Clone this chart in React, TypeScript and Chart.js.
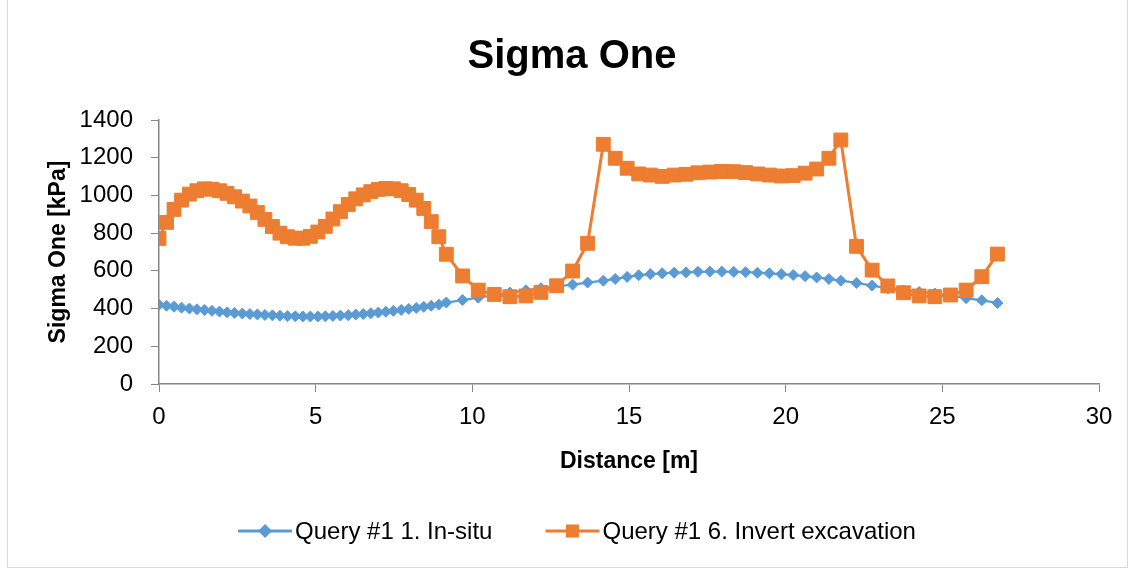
import React, { useEffect, useRef } from "react";
import { Chart, registerables } from "chart.js";

Chart.register(...registerables);

// ---- Data ----
const distance = [
  0.0, 0.24, 0.48, 0.72, 0.97, 1.21, 1.45, 1.69, 1.93, 2.17, 2.41, 2.66, 2.9, 3.14, 3.38, 3.62, 3.86, 4.1, 4.35, 4.59,
  4.83, 5.07, 5.31, 5.55, 5.79, 6.04, 6.28, 6.52, 6.76, 7.0, 7.24, 7.48, 7.73, 7.97, 8.21, 8.45, 8.69, 8.93, 9.17,
  9.69, 10.19, 10.7, 11.2, 11.71, 12.19, 12.69, 13.2, 13.68, 14.18,
  14.56, 14.94, 15.31, 15.68, 16.06, 16.44, 16.82, 17.2, 17.58, 17.96, 18.34, 18.72, 19.1, 19.48, 19.86, 20.24, 20.62,
  20.99, 21.38, 21.76,
  22.26, 22.76, 23.26, 23.76, 24.26, 24.76, 25.26, 25.76, 26.26, 26.76,
];

const inSitu = [
  420, 415, 410, 405, 400, 396, 392, 388, 384, 380, 377, 374, 371, 369, 366, 364, 362, 360, 359, 358,
  358, 358, 359, 361, 363, 365, 368, 371, 375, 379, 383, 388, 393, 398, 403, 409, 415, 421, 432,
  445, 458, 472, 485, 497, 508, 518, 527, 538, 548,
  557, 568, 577, 583, 587, 590, 592, 595, 596, 596, 595, 593, 590, 587, 583, 578, 572, 565, 557, 548,
  536, 522, 507, 496, 488, 480, 468, 455, 444, 430,
];

const invertExcavation = [
  772, 857, 926, 975, 1007, 1025, 1035, 1033, 1025, 1011, 993, 970, 944, 910, 873, 835, 800, 781, 773, 773,
  783, 806, 836, 875, 914, 952, 982, 1003, 1020, 1032, 1037, 1035, 1025, 1005, 975, 931, 861, 781, 688,
  573, 498, 475, 463, 467, 486, 521, 599, 746, 1271,
  1197, 1144, 1114, 1108, 1101, 1108, 1112, 1120, 1124, 1127, 1126, 1121, 1114, 1108, 1103, 1105, 1118, 1140, 1197, 1294,
  730, 604, 520, 484, 467, 463, 472, 498, 569, 689,
];

const seriesNames = ["Query #1 1. In-situ", "Query #1 6. Invert excavation"];
const chartTitle = "Sigma One";
const xAxisTitle = "Distance [m]";
const yAxisTitle = "Sigma One [kPa]";
const xTicks = { min: 0, max: 30, step: 5 };
const yTicks = { min: 0, max: 1400, step: 200 };

// ---- Styles ----
const BLUE = "#5B9BD5";
const ORANGE = "#ED7D31";
const AXIS = "#868686";
const FONT = "'Liberation Sans', Arial, sans-serif";

const W = 1135;
const H = 569;

const legendPlugin = {
  id: "excelLegend",
  afterDraw(chart: any) {
    const ctx = chart.ctx as CanvasRenderingContext2D;
    ctx.save();
    ctx.font = `24px ${FONT}`;
    ctx.textBaseline = "middle";
    ctx.textAlign = "left";
    const lineLen = 54;
    const textGap = 3;
    const itemGap = 53;
    const cy = 531;
    const items = [
      { label: seriesNames[0], color: BLUE, shape: "diamond" },
      { label: seriesNames[1], color: ORANGE, shape: "square" },
    ];
    const widths = items.map((it) => lineLen + textGap + ctx.measureText(it.label).width);
    const total = widths.reduce((a, b) => a + b, 0) + itemGap * (items.length - 1);
    let x = 577 - total / 2;
    items.forEach((it, i) => {
      ctx.strokeStyle = it.color;
      ctx.lineWidth = 3;
      ctx.beginPath();
      ctx.moveTo(x, cy);
      ctx.lineTo(x + lineLen, cy);
      ctx.stroke();
      const mx = x + lineLen / 2;
      ctx.fillStyle = it.color;
      ctx.beginPath();
      if (it.shape === "diamond") {
        const r = 7;
        ctx.moveTo(mx, cy - r);
        ctx.lineTo(mx + r, cy);
        ctx.lineTo(mx, cy + r);
        ctx.lineTo(mx - r, cy);
        ctx.closePath();
      } else {
        const s = 13;
        ctx.rect(mx - s / 2, cy - s / 2, s, s);
      }
      ctx.fill();
      ctx.fillStyle = "#000";
      ctx.fillText(it.label, x + lineLen + textGap, cy + 1);
      x += widths[i] + itemGap;
    });
    ctx.restore();
  },
};

export default function App() {
  const ref = useRef<HTMLCanvasElement>(null);

  useEffect(() => {
    const canvas = ref.current;
    if (!canvas) return;
    const blueData = distance.map((d, i) => ({ x: d, y: inSitu[i] }));
    const orangeData = distance.map((d, i) => ({ x: d, y: invertExcavation[i] }));

    const chart = new Chart(canvas, {
      type: "line",
      data: {
        datasets: [
          {
            label: seriesNames[0],
            data: blueData,
            borderColor: BLUE,
            backgroundColor: BLUE,
            borderWidth: 2.25,
            pointStyle: "rectRot",
            pointRadius: 5.5,
            pointBorderWidth: 1,
            pointBorderColor: BLUE,
            pointBackgroundColor: BLUE,
            tension: 0,
            order: 2,
          },
          {
            label: seriesNames[1],
            data: orangeData,
            borderColor: ORANGE,
            backgroundColor: ORANGE,
            borderWidth: 3,
            pointStyle: "rect",
            pointRadius: 9.8,
            pointBorderWidth: 1,
            pointBorderColor: ORANGE,
            pointBackgroundColor: ORANGE,
            tension: 0,
            order: 1,
          },
        ],
      },
      options: {
        responsive: false,
        animation: false,
        devicePixelRatio: 1,
        layout: { padding: { left: 45, right: 36, top: 0, bottom: 0 } },
        plugins: {
          legend: { display: false },
          tooltip: { enabled: false },
          title: {
            display: true,
            text: chartTitle,
            color: "#000",
            font: { family: FONT, size: 40, weight: "bold", lineHeight: 1.2 },
            padding: { top: 33, bottom: 39 },
          },
        },
        scales: {
          x: {
            type: "linear",
            min: xTicks.min,
            max: xTicks.max,
            ticks: {
              stepSize: xTicks.step,
              color: "#000",
              font: { family: FONT, size: 24 },
              padding: 11,
              maxRotation: 0,
              callback: (v: any) => String(v),
            },
            grid: {
              drawOnChartArea: false,
              drawTicks: true,
              tickLength: 8,
              color: AXIS,
            },
            border: { display: true, color: AXIS, width: 1.5 },
            title: {
              display: true,
              text: xAxisTitle,
              color: "#000",
              font: { family: FONT, size: 23, weight: "bold", lineHeight: 1.2 },
              padding: { top: 0, bottom: 94 },
            },
            afterFit: (scale: any) => {
              scale.height = 185;
            },
          },
          y: {
            type: "linear",
            min: yTicks.min,
            max: yTicks.max,
            ticks: {
              stepSize: yTicks.step,
              color: "#000",
              font: { family: FONT, size: 24 },
              padding: 18,
              callback: (v: any) => String(v),
            },
            grid: {
              drawOnChartArea: false,
              drawTicks: true,
              tickLength: 8,
              color: AXIS,
            },
            border: { display: true, color: AXIS, width: 1.5 },
            title: {
              display: true,
              text: yAxisTitle,
              color: "#000",
              font: { family: FONT, size: 23, weight: "bold", lineHeight: 1.2 },
              padding: { top: 0, bottom: 0 },
            },
            afterFit: (scale: any) => {
              scale.width = 114;
            },
          },
        },
      },
      plugins: [legendPlugin],
    });
    return () => chart.destroy();
  }, []);

  return (
    <div
      style={{
        position: "fixed",
        left: 0,
        top: 0,
        width: W,
        height: H,
        background: "#fff",
        overflow: "hidden",
      }}
    >
      <canvas
        ref={ref}
        width={W}
        height={H}
        style={{ position: "absolute", left: 0, top: 0, width: W, height: H }}
      />
      <div
        style={{
          position: "absolute",
          left: 7,
          top: -2,
          width: 1121,
          height: 570,
          border: "1px solid #d9d9d9",
          boxSizing: "border-box",
          pointerEvents: "none",
        }}
      />
    </div>
  );
}
